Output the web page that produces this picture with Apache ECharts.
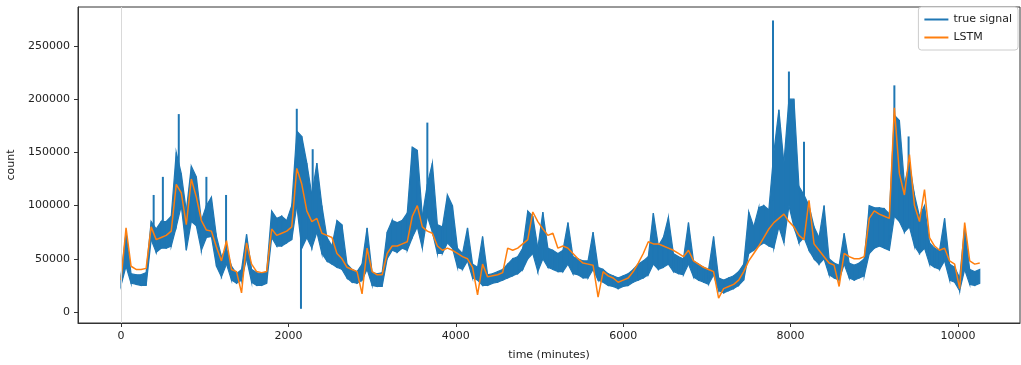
<!DOCTYPE html>
<html>
<head>
<meta charset="utf-8">
<script src="https://cdn.jsdelivr.net/npm/echarts@6/dist/echarts.min.js"></script>
<style>
  html, body { margin: 0; padding: 0; background: #fff; }
  #chart { width: 1021px; height: 365px; }
</style>
</head>
<body>
<div id="chart"></div>
<script>
// one sample every 60 minutes, values in thousands of counts
const stepMinutes = 60;
// true signal: lower and upper edge of the noisy band
const blueLow = [25, 43, 27, 26, 25, 25, 68, 56, 60, 60, 62, 80, 100, 58, 85, 81, 58, 70, 71, 43,
  33, 45, 30, 27, 30, 50, 28, 25, 25, 27, 70, 62, 62, 65, 68, 100, 60, 70, 60, 75,
  55, 48, 45, 42, 40, 32, 28, 27, 30, 40, 25, 24, 24, 50, 58, 56, 60, 58, 70, 80,
  60, 90, 75, 55, 55, 65, 60, 42, 40, 48, 32, 30, 25, 25, 27, 28, 30, 32, 34, 36,
  40, 50, 55, 38, 50, 42, 40, 38, 38, 45, 36, 35, 32, 32, 40, 30, 28, 25, 24, 22,
  24, 25, 28, 30, 32, 35, 45, 40, 42, 45, 38, 36, 35, 45, 33, 30, 28, 26, 35, 20,
  18, 20, 22, 25, 30, 55, 58, 62, 65, 62, 60, 80, 65, 100, 80, 65, 70, 58, 50, 45,
  50, 35, 32, 30, 45, 32, 30, 32, 34, 55, 60, 62, 60, 58, 90, 85, 75, 80, 62, 55,
  60, 45, 42, 40, 48, 30, 28, 20, 40, 26, 25, 27];
const blueHigh = [34, 75, 36, 35, 35, 37, 85, 78, 85, 85, 90, 150, 130, 95, 137, 127, 86, 100, 108, 71,
  52, 60, 43, 36, 40, 73, 40, 37, 36, 38, 95, 88, 90, 86, 100, 170, 165, 140, 110, 140,
  100, 70, 62, 86, 82, 45, 40, 38, 45, 79, 37, 36, 37, 75, 86, 84, 86, 93, 155, 152,
  90, 120, 140, 82, 80, 110, 100, 60, 55, 79, 45, 42, 71, 35, 36, 38, 40, 45, 50, 52,
  60, 95, 90, 60, 94, 60, 58, 55, 58, 84, 52, 50, 48, 48, 75, 42, 40, 36, 34, 32,
  34, 36, 40, 45, 48, 52, 93, 62, 70, 89, 55, 52, 50, 84, 48, 45, 42, 40, 71, 32,
  30, 32, 34, 38, 45, 94, 80, 98, 100, 96, 150, 190, 140, 200, 200, 118, 110, 100, 80, 70,
  100, 50, 46, 44, 74, 46, 44, 46, 50, 100, 98, 98, 97, 92, 185, 180, 120, 140, 110, 90,
  100, 65, 60, 58, 88, 45, 42, 32, 80, 40, 38, 40];
// narrow excursions of the true signal outside its band: [minute, value in thousands]
const blueSpikes = [[390, 110], [500, 127], [690, 186], [1020, 127], [1255, 110],
  [2100, 191], [2150, 3], [2290, 153], [3660, 178], [7790, 274], [7980, 226],
  [8160, 160], [9240, 213], [9410, 165]];
// LSTM prediction
const lstm = [30, 79, 43, 40, 40, 41, 80, 68, 70, 72, 76, 120, 112, 82, 125, 108, 86, 77, 76, 61,
  48, 67, 40, 38, 18, 65, 45, 38, 37, 38, 78, 72, 74, 76, 80, 135, 120, 95, 85, 88,
  74, 72, 70, 55, 50, 42, 40, 38, 17, 60, 38, 35, 35, 55, 62, 62, 64, 66, 90, 100,
  80, 76, 74, 62, 58, 60, 58, 55, 52, 50, 42, 16, 45, 33, 34, 35, 37, 60, 58, 60,
  64, 68, 94, 85, 78, 72, 74, 60, 62, 60, 55, 50, 46, 45, 44, 14, 38, 34, 32, 28,
  30, 32, 38, 46, 55, 66, 64, 64, 62, 60, 58, 55, 52, 58, 48, 45, 42, 40, 38, 13,
  22, 24, 26, 30, 38, 48, 55, 62, 70, 78, 84, 88, 92, 85, 80, 72, 68, 105, 64, 58,
  52, 46, 44, 24, 55, 52, 50, 50, 52, 88, 95, 92, 90, 88, 192, 130, 110, 148, 100, 85,
  115, 70, 62, 58, 60, 48, 45, 22, 84, 48, 45, 46];
const xTicks = [0, 2000, 4000, 6000, 8000, 10000];
const yTicks = [0, 50000, 100000, 150000, 200000, 250000];

// the noisy signal is drawn as a filled band between its low and high edges
let bandData = blueLow.map((v, i) => [i * stepMinutes, v * 1000, blueHigh[i] * 1000]);
let spikeData = blueSpikes.map(s => [s[0], s[1] * 1000]);
let lstmData = lstm.map((v, i) => [i * stepMinutes, v * 1000]);

const blue = '#1f77b4';
const orange = '#ff7f0e';
const font = 'DejaVu Sans';

function renderBand(params, api) {
    let i = params.dataIndex;
    if (i >= bandData.length - 1) return;
    let a = bandData[i], b = bandData[i + 1];
    let pts = [
        api.coord([a[0], a[1]]),
        api.coord([b[0], b[1]]),
        api.coord([b[0], b[2]]),
        api.coord([a[0], a[2]])
    ];
    return {
        type: 'polygon',
        shape: {points: pts},
        style: {fill: blue, stroke: blue, lineWidth: 1.2, lineJoin: 'miter'}
    };
}

// a spike leaves the band from the middle of the nearest sample
function renderSpike(params, api) {
    let s = spikeData[params.dataIndex];
    let k = Math.round(s[0] / stepMinutes);
    let mid = (bandData[k][1] + bandData[k][2]) / 2;
    let p1 = api.coord([s[0], s[1]]);
    let p2 = api.coord([s[0], mid]);
    return {
        type: 'line',
        shape: {x1: p1[0], y1: p1[1], x2: p2[0], y2: p2[1]},
        style: {stroke: blue, lineWidth: 2}
    };
}

let chart = echarts.init(document.getElementById('chart'));
chart.setOption({
    animation: false,
    backgroundColor: '#fff',
    textStyle: {fontFamily: font},
    grid: {
        left: 78, right: 1, top: 7, bottom: 42,
        outerBoundsMode: 'none',
        containLabel: false,
        show: true, borderColor: '#333', borderWidth: 1
    },
    legend: {
        orient: 'vertical',
        right: 3, top: 7,
        padding: [7, 6, 7, 6],
        itemGap: 7,
        itemWidth: 24, itemHeight: 2,
        icon: 'rect',
        backgroundColor: '#fff',
        borderColor: '#ccc', borderWidth: 1, borderRadius: 3,
        textStyle: {fontFamily: font, fontSize: 11, color: '#222'},
        data: ['true signal', 'LSTM']
    },
    xAxis: {
        type: 'value',
        min: -514, max: 10741,
        name: 'time (minutes)',
        nameLocation: 'middle',
        nameGap: 27,
        nameTextStyle: {fontFamily: font, fontSize: 11, color: '#222'},
        splitLine: {show: false},
        axisLine: {onZero: false, lineStyle: {color: '#333'}},
        axisTick: {show: true, length: 4, customValues: xTicks, lineStyle: {color: '#333'}},
        axisLabel: {
            customValues: xTicks, margin: 8, fontSize: 11, color: '#222', fontFamily: font,
            formatter: v => String(v)
        }
    },
    yAxis: {
        type: 'value',
        min: -10340, max: 286650,
        name: 'count',
        nameLocation: 'middle',
        nameGap: 52,
        nameTextStyle: {fontFamily: font, fontSize: 11, color: '#222'},
        splitLine: {show: false},
        axisLine: {show: true, onZero: false, lineStyle: {color: '#333'}},
        axisTick: {show: true, length: 4, customValues: yTicks, lineStyle: {color: '#333'}},
        axisLabel: {
            customValues: yTicks, margin: 8, fontSize: 11, color: '#222', fontFamily: font,
            formatter: v => String(v)
        }
    },
    series: [
        {
            name: 'true signal',
            type: 'custom',
            renderItem: renderBand,
            data: bandData,
            encode: {x: 0, y: [1, 2]},
            itemStyle: {color: blue},
            markLine: {
                silent: true,
                symbol: 'none',
                label: {show: false},
                lineStyle: {color: '#d9d9d9', width: 1, type: 'solid'},
                data: [{xAxis: 0}]
            }
        },
        {
            name: 'true signal',
            type: 'custom',
            renderItem: renderSpike,
            data: spikeData,
            encode: {x: 0, y: 1},
            itemStyle: {color: blue}
        },
        {
            name: 'LSTM',
            type: 'line',
            data: lstmData,
            showSymbol: false,
            color: orange,
            lineStyle: {width: 1.5, color: orange}
        }
    ]
});
</script>
</body>
</html>
